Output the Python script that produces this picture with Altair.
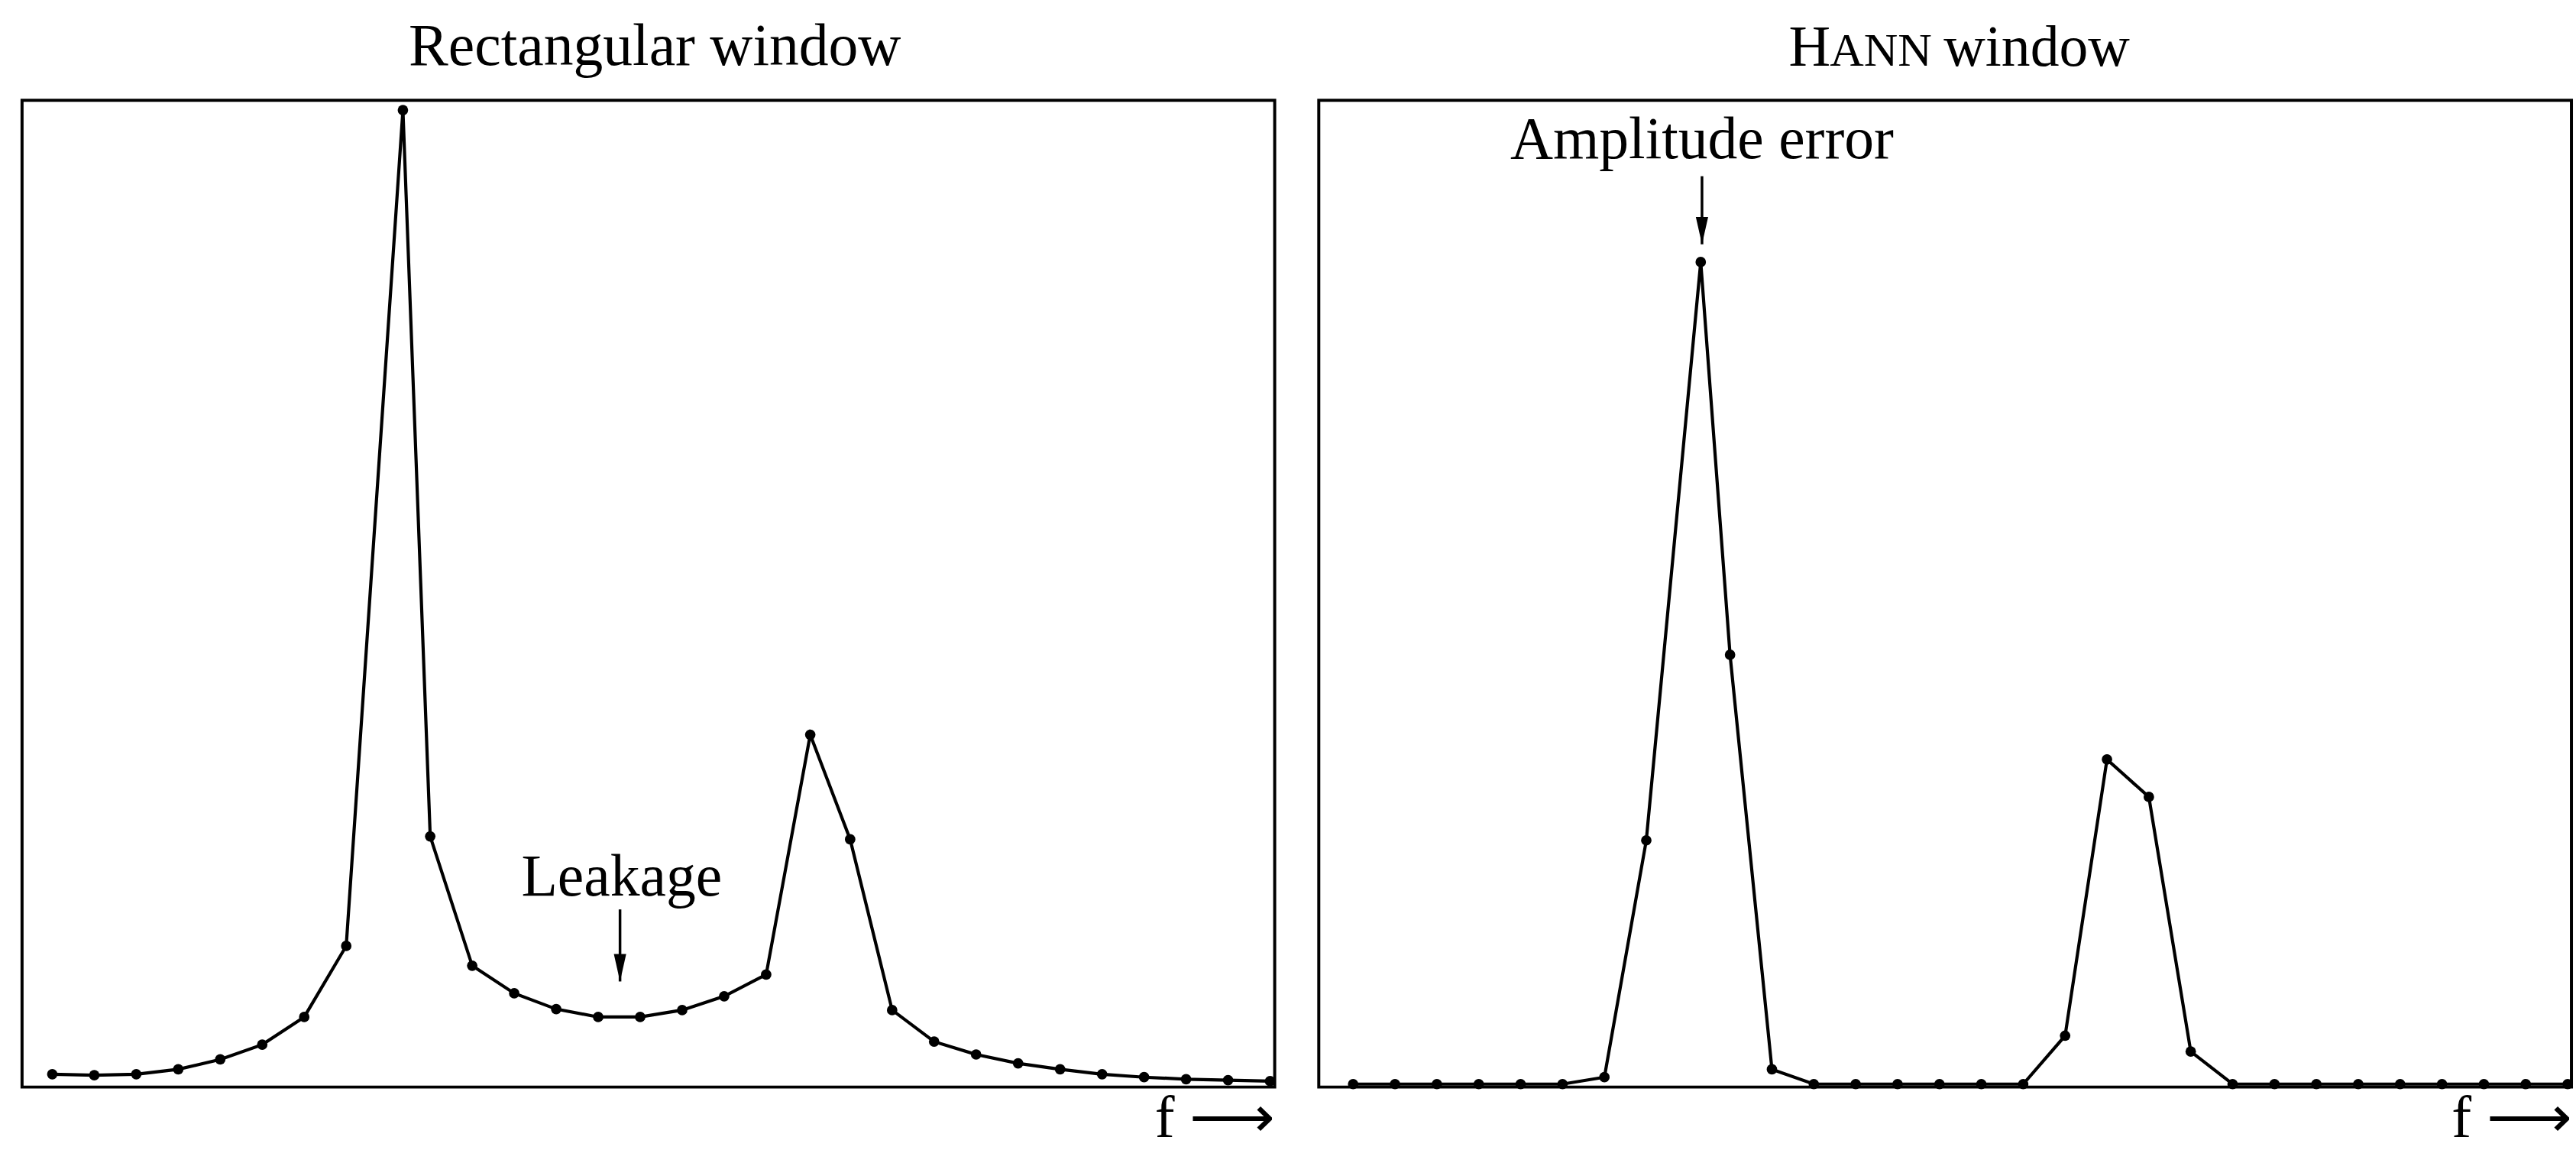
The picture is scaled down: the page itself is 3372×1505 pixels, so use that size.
import altair as alt
import pandas as pd

# ---- data (bin index, relative amplitude in % of frame height) ----
rect_bin = [0, 1, 2, 3, 4, 5, 6, 7, 8.35, 9, 10, 11, 12, 13, 14, 15, 16, 17, 18.05, 19,
            20, 21, 22, 23, 24, 25, 26, 27, 28, 29]
rect_amp = [1.3, 1.2, 1.3, 1.8, 2.8, 4.3, 7.1, 14.3, 99.0, 25.4, 12.3, 9.5, 7.9, 7.1, 7.1,
            7.8, 9.2, 11.4, 35.7, 25.1, 7.8, 4.6, 3.3, 2.4, 1.8, 1.3, 1.0, 0.8, 0.7, 0.6]

hann_bin = [0, 1, 2, 3, 4, 5, 6, 7, 8.3, 9, 10, 11, 12, 13, 14, 15, 16, 17, 18, 19,
            20, 21, 22, 23, 24, 25, 26, 27, 28, 29]
hann_amp = [0.3, 0.3, 0.3, 0.3, 0.3, 0.3, 1.0, 25.0, 83.6, 43.8, 1.8, 0.3, 0.3, 0.3, 0.3,
            0.3, 0.3, 5.2, 33.2, 29.4, 3.6, 0.3, 0.3, 0.3, 0.3, 0.3, 0.3, 0.3, 0.3, 0.3]

titles = ["Rectangular window", "H", "ANN", "window"]
notes = ["Leakage", "Amplitude error"]
axis_label = "f \u27f6"

FONT = "Liberation Serif"
FS = 78
ARROW = "M-0.45,-2L0.45,-2L0,0Z"

rect_df = pd.DataFrame({"bin": rect_bin, "amp": rect_amp})
hann_df = pd.DataFrame({"bin": hann_bin, "amp": hann_amp})


def panel(df, xdom, width, notes_df, arrow_df, title_df, title_align):
    x = alt.X("bin:Q", scale=alt.Scale(domain=xdom, nice=False, zero=False),
              axis=alt.Axis(title=axis_label, labels=False, ticks=False, domain=False,
                            grid=False, titleAnchor="end", titleFont=FONT,
                            titleFontSize=FS, titleFontWeight="normal",
                            titlePadding=3, titleColor="black"))
    y = alt.Y("amp:Q", scale=alt.Scale(domain=[0, 100], nice=False, zero=False), axis=None)
    base = alt.Chart(df)
    line = base.mark_line(color="black", strokeWidth=4.2).encode(x=x, y=y)
    pts = base.mark_point(filled=True, color="black", size=190, opacity=1).encode(x="bin:Q", y="amp:Q")
    txt = alt.Chart(notes_df).mark_text(font=FONT, fontSize=FS, color="black",
                                        baseline="alphabetic", align="center").encode(
        x="bin:Q", y="amp:Q", text="label:N")
    shaft = alt.Chart(arrow_df).mark_rule(color="black", strokeWidth=3.5).encode(
        x="bin:Q", y="amp:Q", y2="amp2:Q")
    head = alt.Chart(arrow_df).mark_point(shape=ARROW, filled=True, color="black",
                                          size=1296, opacity=1, strokeWidth=0).encode(
        x="bin:Q", y="amp2:Q")
    ttl = alt.Chart(title_df).mark_text(font=FONT, color="black", baseline="alphabetic",
                                        align=title_align).encode(
        x="bin:Q", y="amp:Q", text="label:N", size=alt.Size("fs:Q", scale=None))
    return alt.layer(line, pts, txt, shaft, head, ttl).properties(width=width, height=1298)


left = panel(
    rect_df, [-0.72, 29.11], 1648,
    pd.DataFrame({"bin": [13.56], "amp": [19.4], "label": [notes[0]]}),
    pd.DataFrame({"bin": [13.52], "amp": [18.0], "amp2": [10.7]}),
    pd.DataFrame({"bin": [14.35], "amp": [103.6], "label": [titles[0]], "fs": [FS]}),
    "center",
)
right = panel(
    hann_df, [-0.82, 29.09], 1648,
    pd.DataFrame({"bin": [8.33], "amp": [94.1], "label": [notes[1]]}),
    pd.DataFrame({"bin": [8.33], "amp": [92.3], "amp2": [85.4]}),
    pd.DataFrame({"bin": [10.4, 11.38, 14.1], "amp": [103.5, 103.5, 103.5],
                  "label": titles[1:], "fs": [76, 62, 76]}),
    "left",
)

chart = alt.hconcat(left, right, spacing=51).properties(
    padding={"left": 27, "top": 17, "right": 0, "bottom": 0},
    background="white",
).configure_view(stroke="black", strokeWidth=4)

chart.save("out.html", embed_options={"renderer": "svg", "actions": False})
